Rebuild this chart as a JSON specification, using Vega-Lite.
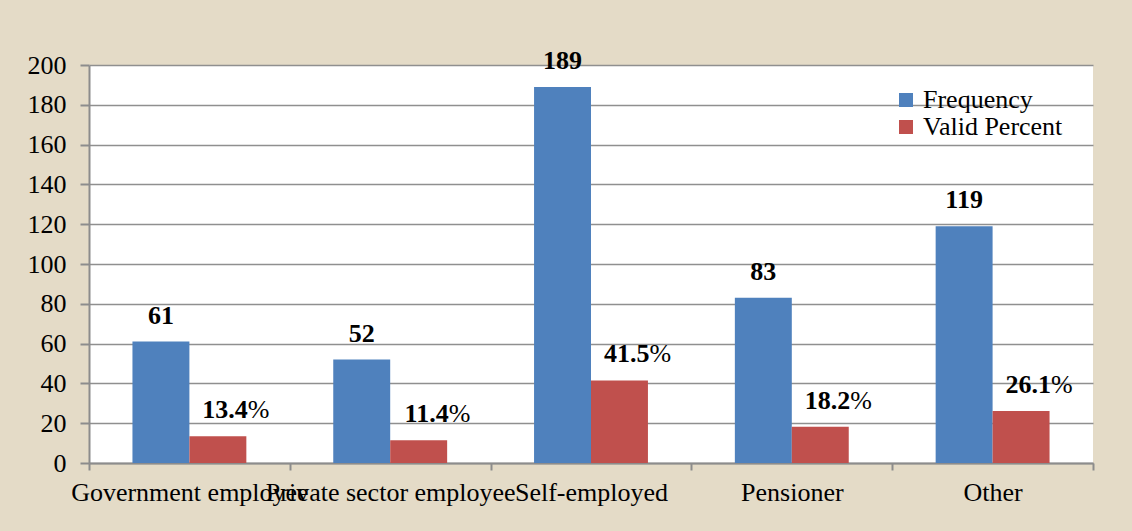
{
  "$schema": "https://vega.github.io/schema/vega-lite/v6.json",
  "width": 1004,
  "height": 398,
  "autosize": {"type": "none"},
  "padding": {"left": 89, "top": 65, "right": 39, "bottom": 68},
  "background": "#E4DBC7",
  "config": {
    "font": "Liberation Serif",
    "view": {"fill": "white", "stroke": null},
    "style": {"guide-label": {"font": "Liberation Serif", "fill": "black"}},
    "axis": {"domainColor": "#8C8C8C", "domainWidth": 2, "tickColor": "#8C8C8C", "tickWidth": 2, "gridColor": "#8F8F8F", "gridWidth": 1.5}
  },
  "data": {
    "values": [
      {"category": "Government employee", "series": "Frequency", "value": 61, "num": "61", "suffix": ""},
      {"category": "Government employee", "series": "Valid Percent", "value": 13.4, "num": "13.4", "suffix": "%"},
      {"category": "Private sector employee", "series": "Frequency", "value": 52, "num": "52", "suffix": ""},
      {"category": "Private sector employee", "series": "Valid Percent", "value": 11.4, "num": "11.4", "suffix": "%"},
      {"category": "Self-employed", "series": "Frequency", "value": 189, "num": "189", "suffix": ""},
      {"category": "Self-employed", "series": "Valid Percent", "value": 41.5, "num": "41.5", "suffix": "%"},
      {"category": "Pensioner", "series": "Frequency", "value": 83, "num": "83", "suffix": ""},
      {"category": "Pensioner", "series": "Valid Percent", "value": 18.2, "num": "18.2", "suffix": "%"},
      {"category": "Other", "series": "Frequency", "value": 119, "num": "119", "suffix": ""},
      {"category": "Other", "series": "Valid Percent", "value": 26.1, "num": "26.1", "suffix": "%"}
    ]
  },
  "encoding": {
    "x": {
      "field": "category", "type": "nominal", "sort": null,
      "scale": {"paddingInner": 0, "paddingOuter": 0},
      "axis": {"title": null, "labelAngle": 0, "tickBand": "extent", "tickSize": 7, "labelPadding": 9, "labelOverlap": false, "labelBound": false, "labelLimit": 0, "labelFont": "Liberation Serif", "labelFontSize": 26, "labelColor": "black"}
    },
    "xOffset": {
      "field": "series", "type": "nominal", "sort": ["Frequency", "Valid Percent"],
      "scale": {"paddingInner": 0, "paddingOuter": 0.763}
    },
    "y": {
      "field": "value", "type": "quantitative",
      "scale": {"domain": [0, 200], "nice": false},
      "axis": {"title": null, "values": [0, 20, 40, 60, 80, 100, 120, 140, 160, 180, 200], "tickSize": 9, "labelPadding": 14, "grid": true, "labelFont": "Liberation Serif", "labelFontSize": 26, "labelColor": "black"}
    }
  },
  "layer": [
    {
      "mark": {"type": "bar"},
      "encoding": {
        "color": {
          "field": "series", "type": "nominal", "sort": ["Frequency", "Valid Percent"],
          "scale": {"domain": ["Frequency", "Valid Percent"], "range": ["#4F81BD", "#C0504D"]},
          "legend": {"title": null, "orient": "none", "legendX": 804, "legendY": 22, "symbolType": "square", "symbolSize": 196, "symbolStrokeWidth": 0, "labelFont": "Liberation Serif", "labelFontSize": 26, "labelColor": "black", "rowPadding": 1, "labelOffset": 4}
        }
      }
    },
    {
      "transform": [{"filter": "datum.series == 'Frequency'"}],
      "mark": {"type": "text", "font": "Liberation Serif", "fontWeight": "bold", "fontSize": 26, "align": "center", "baseline": "alphabetic", "dy": -18, "color": "black"},
      "encoding": {"text": {"field": "num"}}
    },
    {
      "transform": [{"filter": "datum.series == 'Valid Percent'"}],
      "mark": {"type": "text", "font": "Liberation Serif", "fontWeight": "bold", "fontSize": 26, "align": "right", "baseline": "alphabetic", "dx": 30, "dy": -18, "color": "black"},
      "encoding": {"text": {"field": "num"}}
    },
    {
      "transform": [{"filter": "datum.series == 'Valid Percent'"}],
      "mark": {"type": "text", "font": "Liberation Serif", "fontWeight": "normal", "fontSize": 26, "align": "left", "baseline": "alphabetic", "dx": 30, "dy": -18, "color": "black"},
      "encoding": {"text": {"field": "suffix"}}
    }
  ]
}
